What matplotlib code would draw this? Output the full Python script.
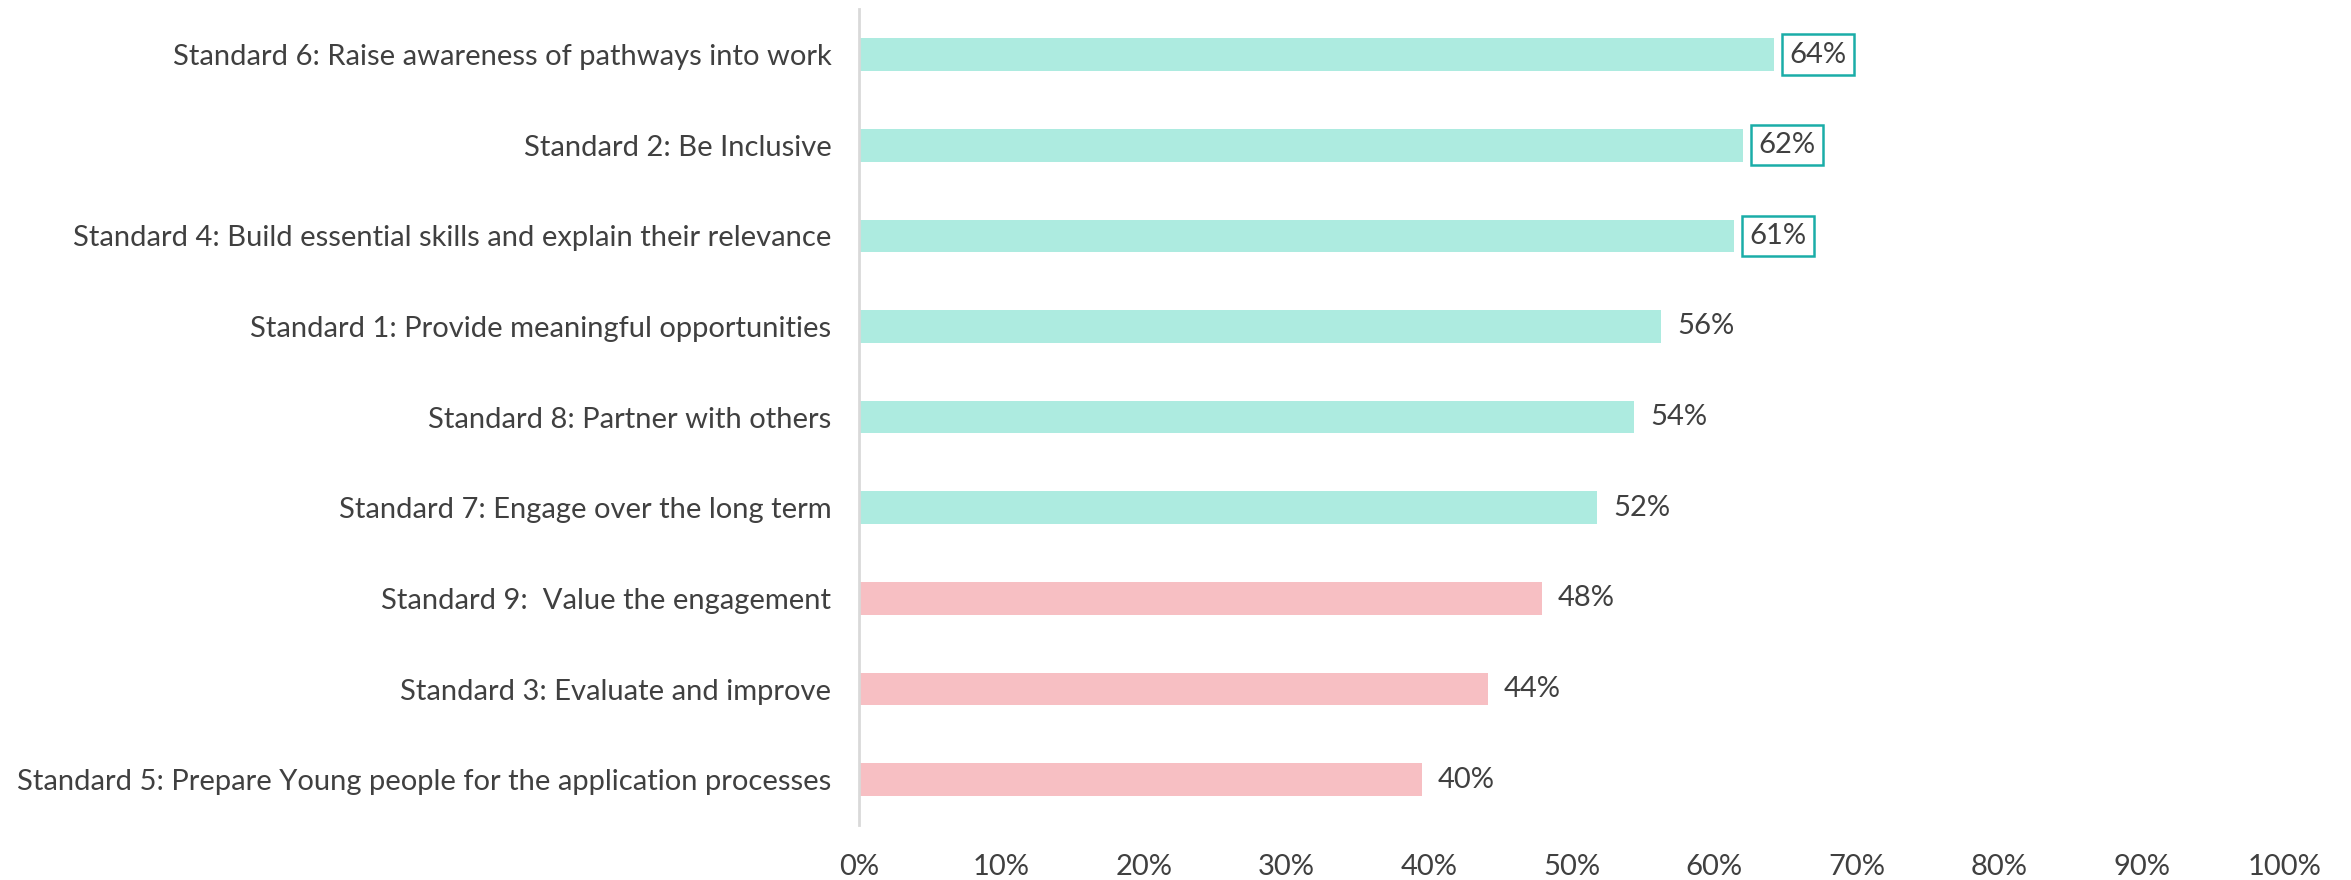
import matplotlib
matplotlib.use("Agg")
import matplotlib.pyplot as plt

plt.rcParams['font.family'] = ['Lato', 'DejaVu Sans']

standards = [
    "Standard 6: Raise awareness of pathways into work",
    "Standard 2: Be Inclusive",
    "Standard 4: Build essential skills and explain their relevance",
    "Standard 1: Provide meaningful opportunities",
    "Standard 8: Partner with others",
    "Standard 7: Engage over the long term",
    "Standard 9:  Value the engagement",
    "Standard 3: Evaluate and improve",
    "Standard 5: Prepare Young people for the application processes",
]
# bar lengths (labels show rounded values)
values = [64.2, 62.0, 61.4, 56.3, 54.4, 51.8, 47.9, 44.1, 39.5]
labels = ["64%", "62%", "61%", "56%", "54%", "52%", "48%", "44%", "40%"]
highlighted = [True, True, True, False, False, False, False, False, False]
ticks = [0, 10, 20, 30, 40, 50, 60, 70, 80, 90, 100]

TEAL = "#ADEBE0"
PINK = "#F7BFC3"
BOX = "#1AADA8"
TXT = "#404040"

fig = plt.figure(figsize=(23.51, 8.8), dpi=100)
ax = fig.add_axes([0.3654, 0.0625, 0.6062, 0.927])

ypos = list(range(len(standards)))
colors = [TEAL if v >= 50 else PINK for v in values]
ax.barh(ypos, values, height=0.36, color=colors)

for y, v, lab, hl in zip(ypos, values, labels, highlighted):
    kw = dict(va='center', ha='left', fontsize=21, color=TXT)
    if hl:
        kw['bbox'] = dict(boxstyle='square,pad=0.25', facecolor='white',
                          edgecolor=BOX, linewidth=1.8)
    ax.text(v + 1.1, y, lab, **kw)

ax.set_ylim(len(standards) - 0.5, -0.5)
ax.set_xlim(0, 100)
ax.set_yticks(ypos)
ax.set_yticklabels(standards, fontsize=21, color=TXT)
ax.set_xticks(ticks)
ax.set_xticklabels([f"{t}%" for t in ticks], fontsize=21, color=TXT)
ax.tick_params(axis='both', length=0)
ax.tick_params(axis='y', pad=20)
ax.tick_params(axis='x', pad=21)

for s in ['top', 'right', 'bottom']:
    ax.spines[s].set_visible(False)
ax.spines['left'].set_color('#D9D9D9')
ax.spines['left'].set_linewidth(2)

fig.savefig("out.png", dpi=100)
